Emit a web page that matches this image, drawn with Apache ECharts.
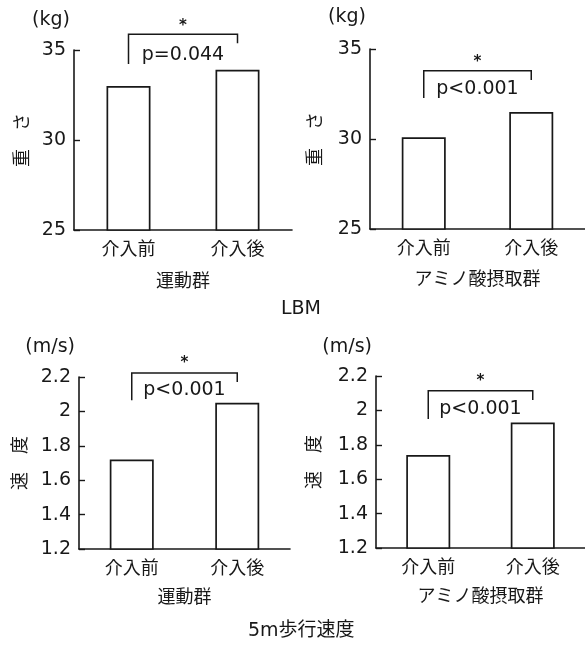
<!DOCTYPE html>
<html>
<head>
<meta charset="utf-8">
<script src="https://cdn.jsdelivr.net/npm/echarts@6/dist/echarts.min.js"></script>
<style>
  html, body { margin: 0; padding: 0; background: #fff; }
  #chart { width: 585px; height: 647px; }
</style>
</head>
<body>
<div id="chart"></div>
<script>
// Categories and measured values
const categories = ['介入前', '介入後'];
const groupNames = ['運動群', 'アミノ酸摂取群', '運動群', 'アミノ酸摂取群'];
const lbmExercise = [33.0, 33.9];
const lbmAmino = [30.1, 31.5];
const speedExercise = [1.72, 2.05];
const speedAmino = [1.74, 1.93];

// Significance annotations: p-value text and bracket levels in data units
// [bracket top, left foot, right foot, star, p text]
const pLabels = ['p=0.044', 'p<0.001', 'p<0.001', 'p<0.001'];
const bracketLevels = [
  [35.87, 34.22, 35.37, 36.33, 34.72],
  [33.79, 32.28, 33.28, 34.28, 32.78],
  [2.223, 2.065, 2.171, 2.28, 2.123],
  [2.114, 1.95, 2.06, 2.173, 2.008]
];

// Axis settings
const yMin = [25, 25, 1.2, 1.2];
const yMax = [35, 35, 2.2, 2.2];
const yStep = [5, 5, 0.2, 0.2];
const unitNames = ['(kg)', '(kg)', '(m/s)', '(m/s)'];
const measureNames = ['重　さ', '重　さ', '速　度', '速　度'];
const panelTitles = ['LBM', '5m歩行速度'];

const panelValues = [lbmExercise, lbmAmino, speedExercise, speedAmino];

const INK = '#181818';
const LATIN = "'DejaVu Sans', 'Noto Sans CJK JP', sans-serif";
const CJK = "'Noto Sans CJK JP', sans-serif";

const grids = [
  { left: 74, top: 50, right: 293, height: 180 },
  { left: 370, top: 49, right: -3, height: 180 },
  { left: 79, top: 377, right: 295, height: 172 },
  { left: 376, top: 376, right: -2, height: 172 }
];

const unitGaps = [20, 22, 20, 19];
const measureGaps = [44, 47, 51, 54];
const groupGaps = [41, 40, 38, 38];

const xAxes = grids.map((g, i) => ({
  type: 'category',
  gridIndex: i,
  data: categories,
  boundaryGap: true,
  axisLine: { lineStyle: { color: INK, width: 1.6 } },
  axisTick: { inside: true, length: 6, lineStyle: { color: INK, width: 1.4 } },
  axisLabel: { color: INK, fontFamily: CJK, fontSize: 18, margin: 9 },
  name: groupNames[i],
  nameLocation: 'middle',
  nameGap: groupGaps[i],
  nameTextStyle: { color: INK, fontFamily: CJK, fontSize: 18 }
}));

const valueAxes = grids.map((g, i) => ({
  type: 'value',
  gridIndex: i,
  position: 'left',
  min: yMin[i],
  max: yMax[i],
  interval: yStep[i],
  axisLine: { show: true, lineStyle: { color: INK, width: 1.6 } },
  axisTick: { show: true, inside: true, length: 6, lineStyle: { color: INK, width: 1.4 } },
  splitLine: { show: false },
  axisLabel: { color: INK, fontFamily: LATIN, fontSize: 19, margin: 8 },
  name: unitNames[i],
  nameLocation: 'end',
  nameGap: unitGaps[i],
  nameTextStyle: { color: INK, fontFamily: LATIN, fontSize: 19, align: 'right', verticalAlign: 'bottom', padding: [0, 4, 0, 0] }
}));

// Second left axis per panel carrying only the rotated measure name
const nameAxes = grids.map((g, i) => ({
  type: 'value',
  gridIndex: i,
  position: 'left',
  min: 0,
  max: 1,
  axisLine: { show: false },
  axisTick: { show: false },
  axisLabel: { show: false },
  splitLine: { show: false },
  name: measureNames[i],
  nameLocation: 'middle',
  nameRotate: 90,
  nameGap: measureGaps[i],
  nameTextStyle: { color: INK, fontFamily: CJK, fontSize: 18 }
}));

const barSeries = panelValues.map((vals, i) => ({
  type: 'bar',
  xAxisIndex: i,
  yAxisIndex: i,
  data: vals,
  barWidth: 44,
  itemStyle: { color: '#ffffff', borderColor: INK, borderWidth: 1.7 },
  silent: true,
  animation: false
}));

// Bracket with star and p-value between the two bars of each panel
const bracketSeries = bracketLevels.map((lv, i) => ({
  type: 'custom',
  xAxisIndex: i,
  yAxisIndex: i,
  clip: false,
  silent: true,
  animation: false,
  z: 5,
  data: [[0, lv[0]]],
  renderItem: function (params, api) {
    const [top, leftFoot, rightFoot, starY, textY] = lv;
    const pL = api.coord([0, top]);
    const pR = api.coord([1, top]);
    const fL = api.coord([0, leftFoot]);
    const fR = api.coord([1, rightFoot]);
    const midX = (pL[0] + pR[0]) / 2;
    const sY = api.coord([0, starY])[1];
    const tY = api.coord([0, textY])[1];
    return {
      type: 'group',
      children: [
        {
          type: 'polyline',
          shape: { points: [fL, pL, pR, fR] },
          style: { stroke: INK, lineWidth: 1.5, fill: null }
        },
        {
          type: 'text',
          style: { text: '*', x: midX, y: sY, align: 'center', verticalAlign: 'middle',
                   fontFamily: LATIN, fontSize: 15, fontWeight: 'bold', fill: INK }
        },
        {
          type: 'text',
          style: { text: pLabels[i], x: midX, y: tY, align: 'center', verticalAlign: 'middle',
                   fontFamily: LATIN, fontSize: 19, fill: INK }
        }
      ]
    };
  }
}));

const option = {
  backgroundColor: '#ffffff',
  animation: false,
  title: [
    { text: panelTitles[0], left: 281, top: 300,
      textStyle: { color: INK, fontFamily: LATIN, fontSize: 19, fontWeight: 'normal' }, padding: 0 },
    { text: panelTitles[1], left: 248, top: 622,
      textStyle: { color: INK, fontFamily: LATIN, fontSize: 19, fontWeight: 'normal' }, padding: 0 }
  ],
  grid: grids.map(g => Object.assign({ containLabel: false }, g)),
  xAxis: xAxes,
  yAxis: valueAxes.concat(nameAxes),
  series: barSeries.concat(bracketSeries)
};

const chart = echarts.init(document.getElementById('chart'), null, { renderer: 'canvas' });
chart.setOption(option);
</script>
</body>
</html>
